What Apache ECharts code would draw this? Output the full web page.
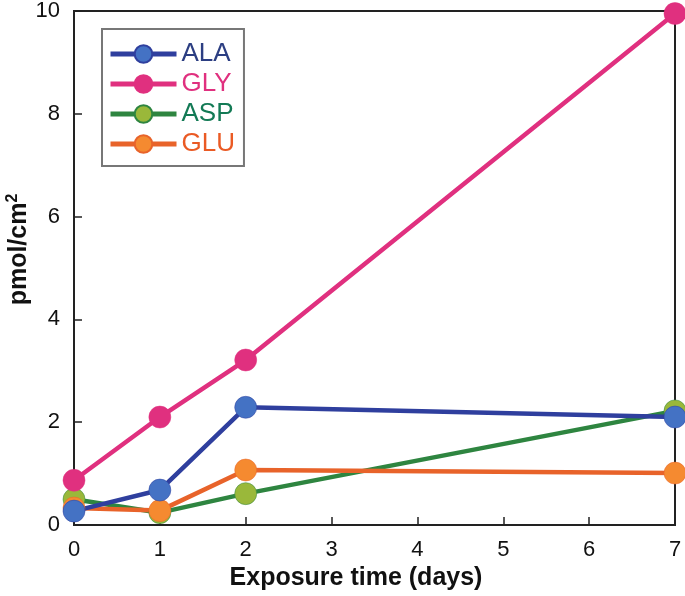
<!DOCTYPE html>
<html><head><meta charset="utf-8">
<script src="https://cdn.jsdelivr.net/npm/echarts@6/dist/echarts.min.js"></script>
<style>html,body{margin:0;padding:0;background:#fff}#c{width:685px;height:596px}</style>
</head><body><div id="c"></div>
<script>
const days = [0, 1, 2, 7];
const ALA = [0.27, 0.68, 2.29, 2.10];
const GLY = [0.87, 2.10, 3.21, 9.95];
const ASP = [0.50, 0.24, 0.61, 2.22];
const GLU = [0.33, 0.28, 1.07, 1.01];
const xTicks = [0, 1, 2, 3, 4, 5, 6, 7];
const yTicks = [0, 2, 4, 6, 8, 10];

const chart = echarts.init(document.getElementById('c'));
function mk(name, vals, line, marker) {
  return {
    name, type: 'line', data: days.map((d, i) => [d, vals[i]]),
    symbol: 'circle', symbolSize: 22,
    lineStyle: { color: line, width: 4.5 },
    itemStyle: { color: marker, borderColor: line, borderWidth: 0.5 },
    emphasis: { disabled: true },
    z: 3
  };
}
const FONT = 'Liberation Sans, Arial, sans-serif';
const legTxt = c => ({ color: c, fontSize: 26, fontFamily: FONT, padding: [0, 0, 0, 0] });
chart.setOption({
  animation: false,
  grid: { left: 74, right: 10, top: 11, bottom: 71, show: true, borderColor: '#222', borderWidth: 2,
          outerBoundsMode: 'none', containLabel: false },
  legend: {
    left: 102, top: 29, orient: 'vertical',
    itemWidth: 66, itemHeight: 22, itemGap: 4,
    padding: [12, 9, 9, 6],
    borderColor: '#777', borderWidth: 2,
    lineStyle: { width: 5 },
    textStyle: legTxt('#111'),
    data: [
      { name: 'ALA', textStyle: legTxt('#2c3e82') },
      { name: 'GLY', textStyle: legTxt('#e0307f') },
      { name: 'ASP', textStyle: legTxt('#137a55') },
      { name: 'GLU', textStyle: legTxt('#ea5a24') }
    ]
  },
  xAxis: {
    type: 'value', min: 0, max: 7, interval: 1,
    name: 'Exposure time (days)', nameLocation: 'middle', nameGap: 41, nameMoveOverlap: false,
    nameTextStyle: { fontSize: 25, fontWeight: 'bold', color: '#111', fontFamily: FONT, padding: [0, 37, 0, 0] },
    axisLine: { lineStyle: { color: '#222', width: 2 } },
    axisTick: { inside: true, length: 8, lineStyle: { color: '#222', width: 1.5 } },
    axisLabel: { fontSize: 22, color: '#111', fontFamily: FONT, margin: 14,
      formatter: v => xTicks.includes(v) ? String(v) : '' },
    splitLine: { show: false }
  },
  yAxis: {
    type: 'value', min: 0, max: 10, interval: 2,
    name: '{a|pmol/cm}{b|2}', nameLocation: 'middle', nameGap: 41, nameRotate: 90, nameMoveOverlap: false,
    nameTextStyle: { padding: [0, 0, 0, 37], rich: {
      a: { fontSize: 25, fontWeight: 'bold', color: '#111', fontFamily: FONT },
      b: { fontSize: 16, fontWeight: 'bold', color: '#111', fontFamily: FONT, verticalAlign: 'top', padding: [0, 0, 12, 0] }
    } },
    axisLine: { lineStyle: { color: '#222', width: 2 } },
    axisTick: { inside: true, length: 8, lineStyle: { color: '#222', width: 1.5 } },
    axisLabel: { fontSize: 22, color: '#111', fontFamily: FONT, margin: 14,
      formatter: v => yTicks.includes(v) ? String(v) : '' },
    splitLine: { show: false }
  },
  series: [
    mk('ASP', ASP, '#2e8540', '#9ab83a'),
    mk('GLU', GLU, '#e8632a', '#f58a30'),
    mk('ALA', ALA, '#2f3f9e', '#4472c4'),
    mk('GLY', GLY, '#e0307f', '#e0307f')
  ]
});
</script></body></html>
